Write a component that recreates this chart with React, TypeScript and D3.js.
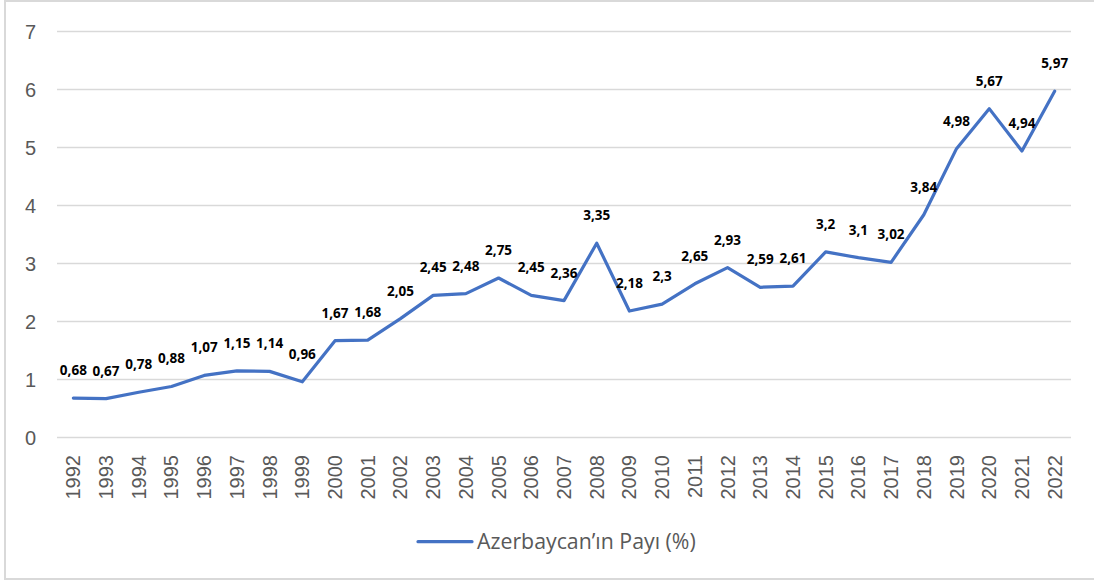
import React from "react";
import * as d3 from "d3";

const years: string[] = [
  "1992","1993","1994","1995","1996","1997","1998","1999","2000","2001","2002",
  "2003","2004","2005","2006","2007","2008","2009","2010","2011","2012","2013",
  "2014","2015","2016","2017","2018","2019","2020","2021","2022",
];
const values: number[] = [
  0.68, 0.67, 0.78, 0.88, 1.07, 1.15, 1.14, 0.96, 1.67, 1.68, 2.05,
  2.45, 2.48, 2.75, 2.45, 2.36, 3.35, 2.18, 2.3, 2.65, 2.93, 2.59,
  2.61, 3.2, 3.1, 3.02, 3.84, 4.98, 5.67, 4.94, 5.97,
];
const yTicks: number[] = [0, 1, 2, 3, 4, 5, 6, 7];
const seriesName = "Azerbaycan\u2019\u0131n Pay\u0131 (%)";

const W = 1094;
const H = 581;
const plotLeft = 57;
const plotRight = 1071;
const plotTop = 31.5;
const plotBottom = 437.5;
const labelFont = "'Open Sans', 'Noto Sans', sans-serif";
const tickFont = "'Liberation Sans', Arial, sans-serif";

export default function App() {
  const x = d3.scaleBand<string>().domain(years).range([plotLeft, plotRight]);
  const y = d3.scaleLinear().domain([0, 7]).range([plotBottom, plotTop]);
  const cx = (yr: string) => (x(yr) ?? 0) + x.bandwidth() / 2;
  const line = d3
    .line<number>()
    .x((_, i) => cx(years[i]))
    .y((v) => y(v));
  const fmt = (v: number) => String(v).replace(".", ",");

  return (
    <div style={{ position: "absolute", left: 0, top: 0 }}>
      <svg width={W} height={H} style={{ display: "block", background: "#fff" }}>
        <rect x={5} y={1} width={W + 10} height={578} fill="#fff" stroke="#d9d9d9" strokeWidth={2} />
        {yTicks.map((t) => (
          <g key={t}>
            <line x1={plotLeft} x2={plotRight} y1={y(t)} y2={y(t)} stroke="#d9d9d9" strokeWidth={1.5} />
            <text
              x={36}
              y={y(t)}
              dy="0.35em"
              textAnchor="end"
              fontFamily={tickFont}
              fontSize={20}
              fill="#595959"
            >
              {t}
            </text>
          </g>
        ))}
        {years.map((yr) => (
          <text
            key={yr}
            transform={`translate(${cx(yr)},455) rotate(-90)`}
            textAnchor="end"
            dy="0.35em"
            fontFamily={tickFont}
            fontSize={20}
            fill="#595959"
          >
            {yr}
          </text>
        ))}
        <path
          d={line(values) ?? ""}
          fill="none"
          stroke="#4472C4"
          strokeWidth={3.2}
          strokeLinejoin="round"
          strokeLinecap="round"
        />
        {values.map((v, i) => (
          <text
            key={i}
            x={cx(years[i])}
            y={y(v) - 23}
            textAnchor="middle"
            fontFamily={labelFont}
            fontWeight="bold"
            fontSize={13.5}
            fill="#000"
          >
            {fmt(v)}
          </text>
        ))}
        <line x1={418} x2={472} y1={541.7} y2={541.7} stroke="#4472C4" strokeWidth={3.2} strokeLinecap="round" />
        <text x={477} y={541.7} dy="0.35em" fontFamily={labelFont} fontSize={21.3} fill="#595959">
          {seriesName}
        </text>
      </svg>
    </div>
  );
}
